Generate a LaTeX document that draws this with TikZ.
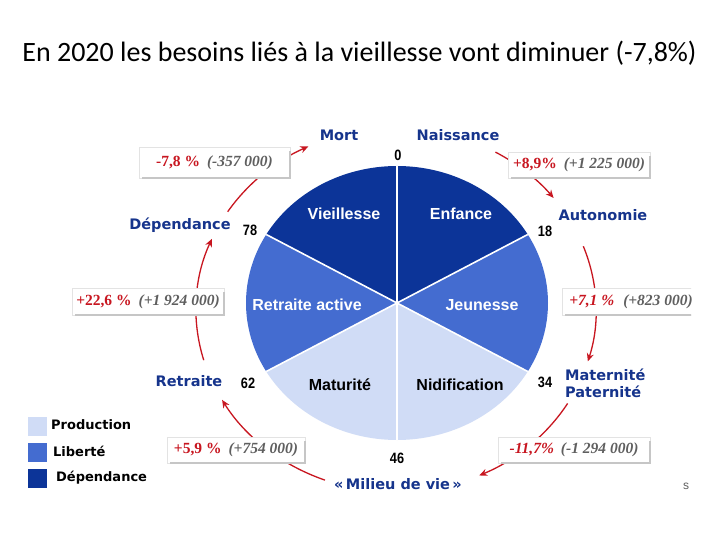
\documentclass[tikz,border=0pt]{standalone}
\usepackage{fontspec}
\setmainfont{Liberation Sans}
\newfontfamily\titlefont{Carlito}
\newfontfamily\labfont{DejaVu Sans}
\newfontfamily\boxfont{Liberation Serif}
\newfontfamily\numfont[FakeStretch=0.85]{Liberation Sans}
\usetikzlibrary{arrows.meta}
\definecolor{dk}{RGB}{12,52,152}
\definecolor{md}{RGB}{68,108,208}
\definecolor{lt}{RGB}{208,220,246}
\definecolor{lbl}{RGB}{22,52,140}
\definecolor{arr}{RGB}{200,22,32}
\definecolor{gr}{RGB}{95,95,95}
\begin{document}
\begin{tikzpicture}[x=1pt,y=-1pt,
  lab/.style={font=\labfont\bfseries\fontsize{14.5}{17}\selectfont, text=lbl, inner sep=0pt},
  num/.style={font=\numfont\bfseries\fontsize{15}{16}\selectfont, inner sep=0pt},
  pietxt/.style={font=\bfseries\fontsize{16}{18}\selectfont, inner sep=0pt},
  valbox/.style={fill=white, draw=gray!22, line width=0.5pt, minimum height=26, inner sep=0pt, font=\boxfont\bfseries\fontsize{15.5}{17}\selectfont},
  arrowl/.style={draw=arr, line width=1.3pt, -{Stealth[length=8pt,width=7pt]}},
  shadowl/.style={draw=gray!45, line width=2pt},
  leg/.style={font=\labfont\bfseries\fontsize{13}{15}\selectfont, inner sep=0pt, anchor=west},
  sq/.style={minimum size=19, inner sep=0pt}
]
\useasboundingbox (0,0) rectangle (720,540);
\fill[white] (0,0) rectangle (720,540);

% title
\node[font=\titlefont\fontsize{28}{32}\selectfont, anchor=base, inner sep=0pt] (title) at (359.5,62)
  {En 2020 les besoins liés à la vieillesse vont diminuer (-7,8\%)};

% pie
\coordinate (pc) at (397,303);
\foreach \a/\b/\c in {270/330/dk, 330/390/md, 30/90/lt, 90/150/lt, 150/210/md, 210/270/dk}
  \fill[\c] (pc) -- ++(\a:151 and 137) arc[start angle=\a, end angle=\b, x radius=151, y radius=137] -- cycle;
\foreach \a in {30,90,150,210,270,330}
  \draw[white, line width=1.6pt] (pc) -- ++(\a:151 and 137);

\node[pietxt, text=white] (vie) at (344,214) {Vieillesse};
\node[pietxt, text=white] (enf) at (461,214) {Enfance};
\node[pietxt, text=white] (ret) at (307,305) {Retraite active};
\node[pietxt, text=white] (jeu) at (482,305) {Jeunesse};
\node[pietxt, text=black] (mat) at (340,385) {Maturité};
\node[pietxt, text=black] (nid) at (460,385) {Nidification};

% numbers
\node[num] (n0) at (398,155) {0};
\node[num] (n18) at (545,231) {18};
\node[num] (n34) at (545,382) {34};
\node[num] (n46) at (397,458) {46};
\node[num] (n62) at (248,383) {62};
\node[num] (n78) at (250,230) {78};

% stage labels
\node[lab] (mort) at (339,135) {Mort};
\node[lab] (nais) at (458,135) {Naissance};
\node[lab] (auto) at (603,215) {Autonomie};
\node[lab, align=left, anchor=west] (mp) at (565,383) {Maternité\\Paternité};
\node[lab] (mil) at (398,484) {«\,Milieu de vie\,»};
\node[lab] (retr) at (189,381) {Retraite};
\node[lab] (dep) at (180,225) {Dépendance};

% arrows around
\coordinate (ac) at (396,310);
\draw[arrowl] (ac) ++(164:200 and 182) arc[start angle=164, end angle=203, x radius=200, y radius=182];
\draw[arrowl] (ac) ++(212.7:200 and 182) arc[start angle=212.7, end angle=244, x radius=200, y radius=182];
\draw[arrowl] (ac) ++(299.8:200 and 182) arc[start angle=299.8, end angle=322, x radius=200, y radius=182];
\draw[arrowl] (ac) ++(339.5:200 and 182) arc[start angle=339.5, end angle=376.4, x radius=200, y radius=182];
\draw[arrowl] (ac) ++(30.9:200 and 182) arc[start angle=30.9, end angle=65.4, x radius=200, y radius=182];
\draw[arrowl] (ac) ++(110.8:200 and 182) arc[start angle=110.8, end angle=150.4, x radius=200, y radius=182];

% value boxes
\node[valbox, minimum width=151, minimum height=31] (b1) at (214.5,162.5)
  {\textcolor{arr}{-7,8 \%}\hspace{7pt}\textcolor{gr}{\itshape (-357 000)}};
\draw[shadowl] ([yshift=-4pt]b1.north east) -- (b1.south east) -- ([xshift=3pt]b1.south west);
\node[valbox, minimum width=142] (b2) at (579,165)
  {\textcolor{arr}{+8,9\%}\hspace{7pt}\textcolor{gr}{\itshape (+1 225 000)}};
\draw[shadowl] ([yshift=-4pt]b2.north east) -- (b2.south east) -- ([xshift=3pt]b2.south west);
\node[valbox, minimum width=152, minimum height=27] (b3) at (148,301.5)
  {\textcolor{arr}{+22,6 \%}\hspace{7pt}\textcolor{gr}{\itshape (+1 924 000)}};
\draw[shadowl] ([yshift=-4pt]b3.north east) -- (b3.south east) -- ([xshift=3pt]b3.south west);
\begin{scope}
\clip (0,90) rectangle (691,540);
\node[valbox, minimum height=27, inner xsep=7pt, anchor=west] (b4) at (562,301.5)
  {\textcolor{arr}{\itshape +7,1 \%}\hspace{9pt}\textcolor{gr}{\itshape (+823 000)}};
\draw[shadowl] ([yshift=-4pt]b4.north east) -- (b4.south east) -- ([xshift=3pt]b4.south west);
\end{scope}
\node[valbox, minimum width=138] (b5) at (236,450)
  {\textcolor{arr}{+5,9 \%}\hspace{7pt}\textcolor{gr}{\itshape (+754 000)}};
\draw[shadowl] ([yshift=-4pt]b5.north east) -- (b5.south east) -- ([xshift=3pt]b5.south west);
\node[valbox, minimum width=152] (b6) at (574,450)
  {\textcolor{arr}{\itshape -11,7\%}\hspace{7pt}\textcolor{gr}{\itshape (-1 294 000)}};
\draw[shadowl] ([yshift=-4pt]b6.north east) -- (b6.south east) -- ([xshift=3pt]b6.south west);

% legend
\node[sq, fill=lt] (sq1) at (37,426) {};
\node[sq, fill=md] (sq2) at (37,452.5) {};
\node[sq, fill=dk] (sq3) at (37,478.5) {};
\node[leg] (l1) at (51,425) {Production};
\node[leg] (l2) at (53,451) {Liberté};
\node[leg] (l3) at (56,478) {Dépendance};

\node[font=\fontsize{12}{14}\selectfont, text=gr, inner sep=0pt] (s) at (686,486) {s};
\end{tikzpicture}
\end{document}
